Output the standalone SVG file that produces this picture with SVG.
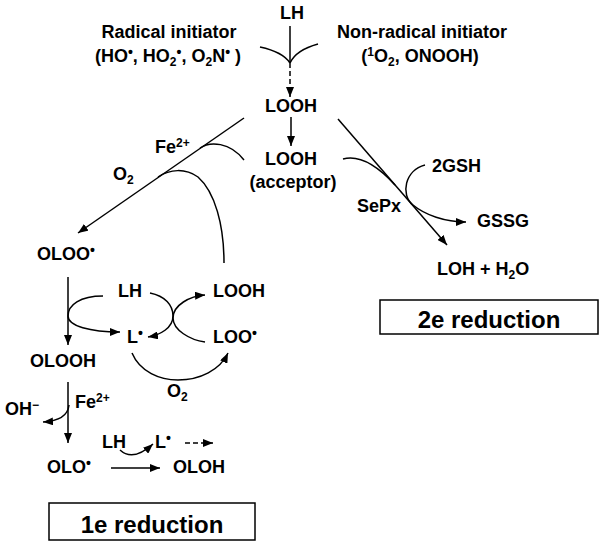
<svg xmlns="http://www.w3.org/2000/svg" width="604" height="546" viewBox="0 0 604 546">
<defs>
<style>
text{font-family:"Liberation Sans",Arial,sans-serif;font-weight:bold;font-size:18px;fill:#000}
.big{font-size:24px}
.s{font-size:12px}
.b{font-size:14px}
.ln{fill:none;stroke:#000;stroke-width:1.5}
.dash{stroke-dasharray:5,3}
.box{fill:#fff;stroke:#000;stroke-width:1.5}
</style>
<marker id="ah" viewBox="0 0 10 8" refX="10" refY="4" markerWidth="10" markerHeight="8" markerUnits="userSpaceOnUse" orient="auto">
<path d="M0,0 L10,4 L0,8 z" fill="#000"/>
</marker>
</defs>
<rect width="604" height="546" fill="#fff"/>

<g id="connectors">
<line class="ln" x1="290" y1="26" x2="290" y2="63"/>
<path class="ln" d="M260,47 Q283,52 290,63"/>
<path class="ln" d="M318,44 Q296,50 290,63"/>
<line class="ln dash" x1="290" y1="63" x2="290" y2="97" marker-end="url(#ah)"/>
<line class="ln" x1="291" y1="117" x2="291" y2="146" marker-end="url(#ah)"/>
<line class="ln" x1="244" y1="118" x2="78" y2="233" marker-end="url(#ah)"/>
<path class="ln" d="M200,148 C210,141 230,142 244,160"/>
<path class="ln" d="M158,177 C170,169 185,168 198,177 C215,192 224,225 224,263"/>
<line class="ln" x1="338" y1="119" x2="447" y2="245" marker-end="url(#ah)"/>
<path class="ln" d="M343,159 C358,155 375,163 395,185"/>
<path class="ln" d="M425,165 C405,170 400,195 413,205 C425,215 445,222 466,222" marker-end="url(#ah)"/>
<line class="ln" x1="68" y1="277" x2="68" y2="345" marker-end="url(#ah)"/>
<path class="ln" d="M103,296 C80,296 68,305 68,316 C68,326 90,332 120,332" marker-end="url(#ah)"/>
<path class="ln" d="M150,293 C165,296 173,305 173,316 C173,328 160,335 148,337" marker-end="url(#ah)"/>
<path class="ln" d="M205,342 C190,340 173,330 173,318 C173,305 190,296 205,295" marker-end="url(#ah)"/>
<path class="ln" d="M132,353 C140,372 160,380 178,380 C200,380 220,370 228,353" marker-end="url(#ah)"/>
<line class="ln" x1="68" y1="382" x2="68" y2="443" marker-end="url(#ah)"/>
<path class="ln" d="M69,405 C68,415 60,421 43,422" marker-end="url(#ah)"/>
<line class="ln" x1="111" y1="468" x2="160" y2="468" marker-end="url(#ah)"/>
<path class="ln" d="M120,450 Q133,462 153,444" marker-end="url(#ah)"/>
<line class="ln dash" x1="185" y1="443" x2="213" y2="443" marker-end="url(#ah)"/>
</g>

<g id="n-lh-top"><text x="292" y="19" text-anchor="middle">LH</text></g>
<g id="n-radical">
<text x="169" y="38" text-anchor="middle">Radical initiator</text>
<text x="168" y="62" text-anchor="middle">(HO<tspan class="b" baseline-shift="5">•</tspan>, HO<tspan class="s" baseline-shift="-4">2</tspan><tspan class="b" baseline-shift="5">•</tspan>, O<tspan class="s" baseline-shift="-4">2</tspan>N<tspan class="b" baseline-shift="5">•</tspan> )</text>
</g>
<g id="n-nonradical">
<text x="422" y="38" text-anchor="middle">Non-radical initiator</text>
<text x="420" y="62" text-anchor="middle">(<tspan class="s" baseline-shift="6">1</tspan>O<tspan class="s" baseline-shift="-4">2</tspan>, ONOOH)</text>
</g>
<g id="n-looh"><text x="291" y="112" text-anchor="middle">LOOH</text></g>
<g id="n-fe1"><text x="155" y="153">Fe<tspan class="s" baseline-shift="6">2+</tspan></text></g>
<g id="n-o2a"><text x="113" y="180">O<tspan class="s" baseline-shift="-4">2</tspan></text></g>
<g id="n-acceptor">
<text x="291" y="165" text-anchor="middle">LOOH</text>
<text x="293" y="188" text-anchor="middle">(acceptor)</text>
</g>
<g id="n-2gsh"><text x="432" y="172">2GSH</text></g>
<g id="n-sepx"><text x="357" y="212">SePx</text></g>
<g id="n-gssg"><text x="477" y="227">GSSG</text></g>
<g id="n-loh"><text x="437" y="275">LOH + H<tspan class="s" baseline-shift="-4">2</tspan>O</text></g>
<g id="n-2e">
<rect class="box" x="380" y="300" width="218" height="34"/>
<text class="big" x="489" y="328" text-anchor="middle">2e reduction</text>
</g>
<g id="n-oloo"><text x="37" y="260">OLOO<tspan class="b" baseline-shift="5">•</tspan></text></g>
<g id="n-lh2"><text x="118" y="297">LH</text></g>
<g id="n-looh2"><text x="213" y="297">LOOH</text></g>
<g id="n-l"><text x="127" y="343">L<tspan class="b" baseline-shift="5">•</tspan></text></g>
<g id="n-loo"><text x="213" y="343">LOO<tspan class="b" baseline-shift="5">•</tspan></text></g>
<g id="n-olooh"><text x="30" y="367">OLOOH</text></g>
<g id="n-o2b"><text x="167" y="397">O<tspan class="s" baseline-shift="-4">2</tspan></text></g>
<g id="n-fe2"><text x="75" y="408">Fe<tspan class="s" baseline-shift="6">2+</tspan></text></g>
<g id="n-oh"><text x="5" y="415">OH<tspan class="s" baseline-shift="6">−</tspan></text></g>
<g id="n-lh3"><text x="102" y="448">LH</text></g>
<g id="n-l2"><text x="155" y="448">L<tspan class="b" baseline-shift="5">•</tspan></text></g>
<g id="n-olo"><text x="47" y="473">OLO<tspan class="b" baseline-shift="5">•</tspan></text></g>
<g id="n-oloh"><text x="173" y="473">OLOH</text></g>
<g id="n-1e">
<rect class="box" x="49" y="503" width="206" height="37"/>
<text class="big" x="152" y="533" text-anchor="middle">1e reduction</text>
</g>
</svg>
